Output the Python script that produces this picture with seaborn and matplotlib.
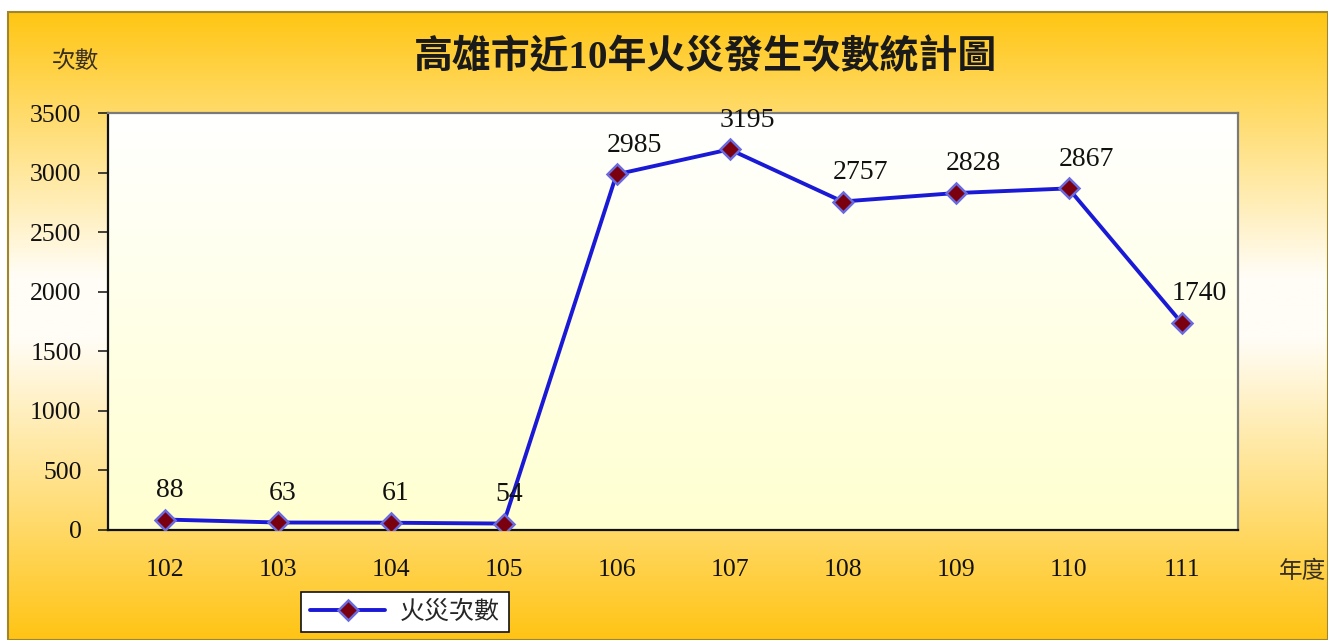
import numpy as np
import pandas as pd
import matplotlib
matplotlib.use("Agg")
import matplotlib.pyplot as plt
import seaborn as sns
from matplotlib.colors import LinearSegmentedColormap
from matplotlib.lines import Line2D
from matplotlib.patches import Rectangle

# data
years = ["102", "103", "104", "105", "106", "107", "108", "109", "110", "111"]
fires = [88, 63, 61, 54, 2985, 3195, 2757, 2828, 2867, 1740]
y_ticks = [0, 500, 1000, 1500, 2000, 2500, 3000, 3500]

title = "高雄市近10年火災發生次數統計圖"
y_unit = "次數"
x_unit = "年度"
series_name = "火災次數"

sns.set_style("white")
plt.rcParams['font.family'] = ['Liberation Serif', 'Noto Sans CJK TC', 'DejaVu Sans']

df = pd.DataFrame({"year": years, "count": fires})

fig = plt.figure(figsize=(13.28, 6.4), dpi=100)
fig.patch.set_facecolor("white")

# figure background gradient (orange -> white -> orange)
bg = fig.add_axes([8 / 1328, 0, 1 - 8 / 1328, 1 - 12 / 640], zorder=-10)
bg_cmap = LinearSegmentedColormap.from_list(
    "bg", [(0, "#ffc614"), (0.42, "#fffdf6"), (0.52, "#fffdf6"), (1, "#ffc414")])
bg.imshow(np.linspace(0, 1, 256).reshape(-1, 1), aspect="auto", cmap=bg_cmap,
          extent=[0, 1, 0, 1], origin="upper")
bg.set_axis_off()
fig.add_artist(Rectangle((8 / 1328, 0), 1 - 8 / 1328, 1 - 12 / 640, transform=fig.transFigure,
                         fill=False, edgecolor="#a0862a", linewidth=1.5, zorder=-5))

ax = fig.add_axes([108 / 1328, 1 - 530 / 640, (1238 - 108) / 1328, (530 - 113) / 640])
ax.patch.set_alpha(0)

# plot area gradient (white -> pale yellow)
pa_cmap = LinearSegmentedColormap.from_list("pa", ["#ffffff", "#ffffd0"])
ax.imshow(np.linspace(0, 1, 256).reshape(-1, 1), aspect="auto", cmap=pa_cmap,
          extent=[0, 1, 0, 1], origin="upper", transform=ax.transAxes, zorder=0)

sns.lineplot(data=df, x="year", y="count", ax=ax, color="#1a1ad6", linewidth=2.8,
             marker="D", markersize=10.5, markerfacecolor="#7a0010",
             markeredgecolor="#6a6ae0", markeredgewidth=1.8, zorder=3, legend=False)

for i, v in enumerate(fires):
    dx = 4 if len(str(v)) <= 2 else 13
    ax.annotate(str(v), (i, v), xytext=(dx, 21), textcoords="offset points",
                ha="center", va="center", fontsize=20, color="#111111", zorder=4)

ax.set_xlim(-0.5, len(years) - 0.5)
ax.set_ylim(0, 3500)
ax.set_yticks(y_ticks)
ax.set_yticklabels([str(t) for t in y_ticks], fontsize=18.5, color="#111111")
ax.set_xticks(np.arange(len(years)))
ax.set_xticklabels(years, fontsize=18.5, color="#111111")
ax.set_xticks(np.arange(len(years) - 1) + 0.5, minor=True)
ax.tick_params(axis="x", which="major", length=0, pad=21)
ax.tick_params(axis="x", which="minor", direction="in", length=7, width=1.2, color="#222222")
ax.tick_params(axis="y", direction="out", length=7, width=1.2, color="#222222", pad=12, left=True)
ax.set_xlabel("")
ax.set_ylabel("")

for side in ["left", "bottom"]:
    ax.spines[side].set_color("#111111")
    ax.spines[side].set_linewidth(1.6)
for side in ["top", "right"]:
    ax.spines[side].set_visible(True)
    ax.spines[side].set_color("#7a7a7a")
    ax.spines[side].set_linewidth(1.6)

fig.text(706 / 1328, 1 - 58 / 640, title, ha="center", va="center", fontsize=28,
         fontweight="bold", color="#1a1a1a")
fig.text(75 / 1328, 1 - 62 / 640, y_unit, ha="center", va="center", fontsize=17, color="#3a3020")
fig.text(1302 / 1328, 1 - 572 / 640, x_unit, ha="center", va="center", fontsize=17, color="#3a3020")

handle = Line2D([], [], color="#1a1ad6", linewidth=2.8, marker="D", markersize=10.5,
                markerfacecolor="#7a0010", markeredgecolor="#6a6ae0", markeredgewidth=1.8)
leg = fig.legend([handle], [series_name], loc="center",
                 bbox_to_anchor=(405 / 1328, 1 - 612 / 640), fontsize=18,
                 frameon=True, fancybox=False, handlelength=3.0, borderpad=0.35,
                 handletextpad=0.6)
leg.get_frame().set_edgecolor("#111111")
leg.get_frame().set_linewidth(1.2)
leg.get_frame().set_facecolor("white")
leg.get_frame().set_alpha(1)

fig.savefig("out.png", dpi=100)
